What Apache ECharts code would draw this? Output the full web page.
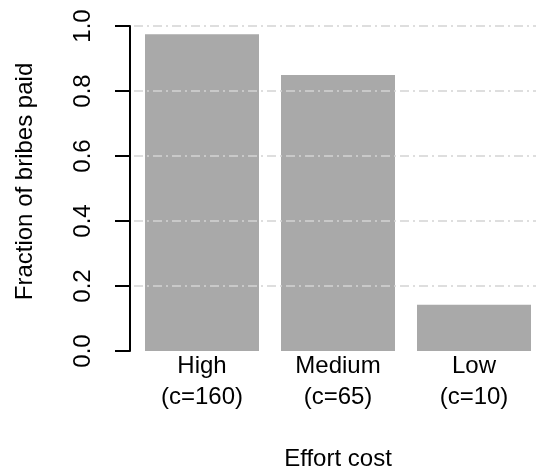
<!DOCTYPE html>
<html>
<head>
<meta charset="utf-8">
<script src="https://cdn.jsdelivr.net/npm/echarts@6/dist/echarts.min.js"></script>
<style>
  html, body { margin: 0; padding: 0; background: #ffffff; }
  #chart { width: 536px; height: 470px; }
</style>
</head>
<body>
<div id="chart"></div>
<script>
// Effort cost levels and the share of bribes that were paid at each level
const levels = ['High', 'Medium', 'Low'];
const costs = [160, 65, 10];
const fractionPaid = [0.975, 0.849, 0.142];
const yTicks = [0.0, 0.2, 0.4, 0.6, 0.8, 1.0];

const FONT = '"Liberation Sans", Arial, Helvetica, sans-serif';

const chart = echarts.init(document.getElementById('chart'), null, { renderer: 'canvas' });

chart.setOption({
  animation: false,
  backgroundColor: '#ffffff',
  grid: {
    left: 134, right: -6, top: 26, bottom: 119,
    containLabel: false,
    outerBoundsMode: 'none'
  },
  xAxis: {
    type: 'category',
    data: levels,
    boundaryGap: true,
    axisLine: { show: false },
    axisTick: { show: false },
    axisLabel: {
      margin: 0,
      color: '#000000',
      fontFamily: FONT,
      fontSize: 24,
      lineHeight: 31,
      formatter: (v, i) => v + '\n(c=' + costs[i] + ')'
    },
    name: 'Effort cost',
    nameLocation: 'middle',
    nameGap: 96,
    nameTextStyle: { color: '#000000', fontFamily: FONT, fontSize: 24, lineHeight: 24 }
  },
  yAxis: {
    type: 'value',
    min: yTicks[0],
    max: yTicks[yTicks.length - 1],
    interval: yTicks[1] - yTicks[0],
    offset: 4,
    z: 3,
    axisLine: { show: true, lineStyle: { color: '#000000', width: 2 } },
    axisTick: { show: true, length: 15, lineStyle: { color: '#000000', width: 2 } },
    axisLabel: {
      rotate: 90,
      margin: 35,
      color: '#000000',
      fontFamily: FONT,
      fontSize: 24,
      lineHeight: 24,
      formatter: v => v.toFixed(1)
    },
    splitLine: {
      show: true,
      showMinLine: false,
      lineStyle: { color: '#d3d3d3', width: 1.5, type: [9, 4, 2, 4] }
    },
    name: 'Fraction of bribes paid',
    nameLocation: 'middle',
    nameGap: 93,
    nameTextStyle: {
      color: '#000000', fontFamily: FONT, fontSize: 24, lineHeight: 24,
      padding: [0, 0, 0, 14]
    }
  },
  series: [{
    type: 'bar',
    data: fractionPaid,
    barWidth: 114,
    itemStyle: { color: '#a9a9a9' },
    emphasis: { disabled: true }
  }]
});
</script>
</body>
</html>
